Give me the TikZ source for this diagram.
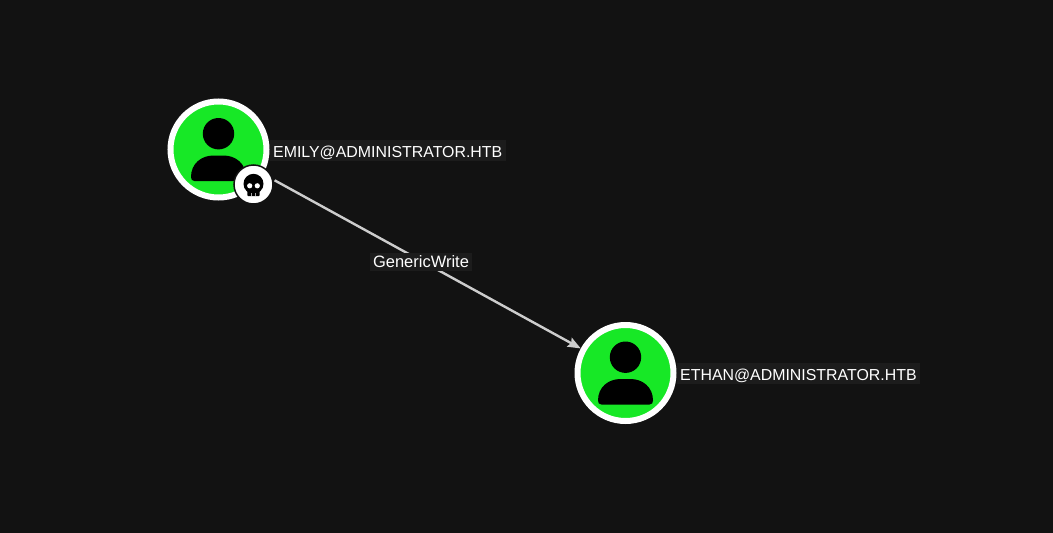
\documentclass[tikz,border=0pt]{standalone}
\usepackage{fontspec}
\setmainfont{Liberation Sans}
\usepackage{xcolor}
\usetikzlibrary{arrows.meta}
\definecolor{custom-bg}{RGB}{18, 18, 18}
\definecolor{custom-green}{RGB}{23, 232, 38}
\definecolor{custom-label}{RGB}{28, 28, 28}
\definecolor{custom-edge}{RGB}{205, 205, 205}
\tikzset{
    usernode/.style={circle, draw=white, fill=custom-green, line width=6pt, minimum size=96pt, inner sep=0pt},
    badgenode/.style={circle, draw=custom-bg, fill=white, line width=1.5pt, minimum size=39pt, inner sep=0pt},
    namelabel/.style={fill=custom-label, text=white, font=\fontsize{15.9}{18}\selectfont, inner xsep=3.5pt, inner ysep=0pt, text height=17.5pt, text depth=3.5pt, anchor=west},
    edgelabel/.style={fill=custom-label, text=white, font=\fontsize{16.5}{18}\selectfont, inner xsep=3pt, inner ysep=0pt, text height=14.6pt, text depth=3.4pt}
}
\newcommand{\personicon}[1]{
    \begin{scope}[shift={(#1)}]
        \fill (0,-15.8) circle (15.7);
        \fill (-27.5,27.5) .. controls (-27.5,14) and (-17,6) .. (-5,6) -- (5,6)
              .. controls (17,6) and (27.5,14) .. (27.5,27.5)
              .. controls (27.5,30) and (26.5,31.5) .. (24,31.5) -- (-24,31.5)
              .. controls (-26.5,31.5) and (-27.5,30) .. (-27.5,27.5) -- cycle;
    \end{scope}
}
\newcommand{\skullicon}[1]{
    \begin{scope}[shift={(#1)}]
        \fill (0,-1.2) circle (10);
        \fill[rounded corners=1pt] (-6.2,2) rectangle (6.2,11.2);
        \fill[white] (-3.8,0.8) circle (2.6) (3.8,0.8) circle (2.6);
        \fill[white] (-2.3,8) rectangle (-1.8,11.2) (1.8,8) rectangle (2.3,11.2);
    \end{scope}
}
\begin{document}
\begin{tikzpicture}[x=1pt, y=-1pt]
    \fill[custom-bg] (0,0) rectangle (1053,533);
    \useasboundingbox (0,0) rectangle (1053,533);
    \node[namelabel] (emilyname) at (269.5,150) {EMILY@ADMINISTRATOR.HTB};
    \node[namelabel] (ethanname) at (676.5,373.5) {ETHAN@ADMINISTRATOR.HTB};
    \node[usernode] (emily) at (218.5,149.5) {};
    \node[usernode] (ethan) at (625.5,373) {};
    \personicon{218.5,149.5}
    \personicon{625.5,373}
    \draw [custom-edge, line width=2.4pt, shorten <=13pt, shorten >=0pt, -{Stealth[length=13pt, width=10pt, inset=2pt]}]
          (emily) -- node[edgelabel, xshift=-1pt, yshift=-0.5pt] (edgename) {GenericWrite} (ethan);
    \node[badgenode] (owned) at (253.5,184.5) {};
    \skullicon{253.5,185}
\end{tikzpicture}
\end{document}
